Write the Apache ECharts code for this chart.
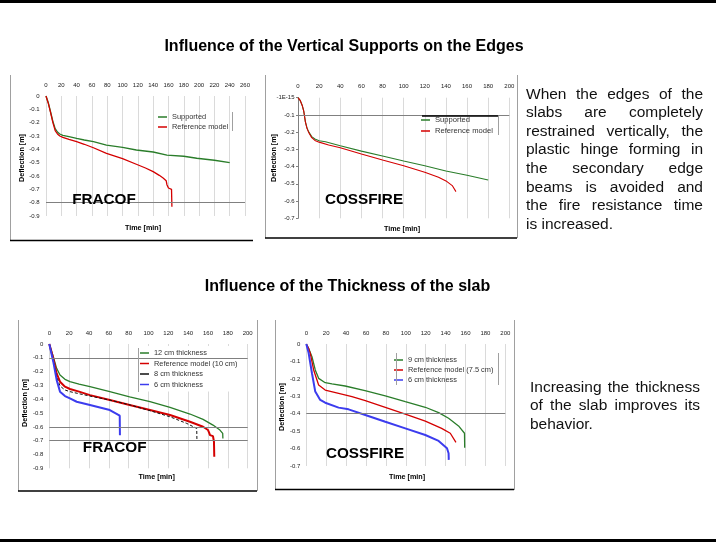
<!DOCTYPE html>
<html><head><meta charset="utf-8">
<script src="https://cdn.jsdelivr.net/npm/echarts@6/dist/echarts.min.js"></script>
<style>
html,body{margin:0;padding:0;background:#fff;}
#c{position:absolute;left:0;top:0;width:716px;height:545px;}
.p{position:absolute;font-family:"Liberation Sans",Arial,sans-serif;font-size:15.5px;line-height:18.6px;color:#111;}
.p div{text-align:justify;text-align-last:justify;white-space:nowrap;}
.p div.l{text-align:left;text-align-last:left;}
</style></head>
<body>
<div id="c"></div>
<div class="p" style="left:526px;top:84.7px;width:177px;">
<div>When the edges of the</div>
<div>slabs are completely</div>
<div>restrained vertically, the</div>
<div>plastic hinge forming in</div>
<div>the secondary edge</div>
<div>beams is avoided and</div>
<div>the fire resistance time</div>
<div class="l">is increased.</div>
</div>
<div class="p" style="left:530px;top:377.7px;width:170px;">
<div>Increasing the thickness</div>
<div>of the slab improves its</div>
<div class="l">behavior.</div>
</div>
<script>
// ---- Data (time [min], deflection [m]) ----
const supFracofT = [0, 3, 6, 9, 12, 15, 18, 22, 30, 40, 50, 62, 79, 100, 118, 140, 158, 180, 197, 220, 240];
const supFracofV = [0, -0.05, -0.12, -0.19, -0.245, -0.27, -0.285, -0.295, -0.305, -0.318, -0.33, -0.343, -0.368, -0.385, -0.405, -0.42, -0.443, -0.452, -0.467, -0.482, -0.50];
const refFracofT = [0, 3, 6, 9, 12, 15, 18, 22, 30, 40, 50, 62, 79, 100, 118, 130, 140, 148, 153, 157, 158, 159.5, 160, 164, 164.5];
const refFracofV = [0, -0.055, -0.125, -0.2, -0.26, -0.285, -0.30, -0.31, -0.325, -0.343, -0.362, -0.388, -0.43, -0.47, -0.512, -0.54, -0.567, -0.595, -0.615, -0.635, -0.665, -0.675, -0.69, -0.70, -0.83];

const supCossT = [0, 2, 4, 5.5, 7, 8.5, 10, 13, 16, 20, 26, 40, 60, 80, 100, 120, 140, 160, 180];
const supCossV = [0, -0.015, -0.045, -0.08, -0.14, -0.175, -0.197, -0.226, -0.24, -0.25, -0.256, -0.279, -0.31, -0.338, -0.367, -0.395, -0.425, -0.45, -0.478];
const refCossT = [0, 2, 4, 5.5, 7, 8.5, 10, 13, 16, 20, 29, 40, 60, 80, 100, 120, 133, 141, 146, 149.5];
const refCossV = [0, -0.015, -0.045, -0.08, -0.14, -0.178, -0.2, -0.232, -0.248, -0.258, -0.275, -0.29, -0.327, -0.362, -0.395, -0.433, -0.462, -0.487, -0.51, -0.545];

const fr12T = [0, 4, 7.4, 10.8, 15.8, 20.8, 30, 41, 61, 81, 101.5, 121.7, 141.8, 155, 165, 172, 174.8, 175];
const fr12V = [0, -0.092, -0.176, -0.225, -0.256, -0.273, -0.29, -0.309, -0.345, -0.382, -0.418, -0.459, -0.507, -0.546, -0.587, -0.623, -0.647, -0.684];
const fr10T = [0, 4, 7.4, 10.8, 15.8, 20.8, 30, 41, 61, 81, 101.5, 121.7, 141.8, 155, 160, 161, 162, 165, 166, 166.3];
const fr10V = [0, -0.104, -0.213, -0.273, -0.309, -0.326, -0.345, -0.37, -0.406, -0.442, -0.478, -0.514, -0.563, -0.599, -0.623, -0.64, -0.66, -0.667, -0.708, -0.816];
const fr8T = [0, 4, 7.4, 10.8, 15.8, 20.8, 30, 41, 61, 81, 101.5, 121.7, 138.5, 148.6, 148.8];
const fr8V = [0, -0.11, -0.237, -0.304, -0.333, -0.345, -0.36, -0.377, -0.406, -0.44, -0.483, -0.527, -0.575, -0.611, -0.69];
const fr6T = [0, 4, 7.4, 10.8, 15.8, 20.8, 27.6, 41, 50, 61, 71, 71.2];
const fr6V = [0, -0.128, -0.26, -0.345, -0.377, -0.394, -0.418, -0.442, -0.458, -0.478, -0.519, -0.66];

const co9T = [0, 2.3, 5.7, 9, 12.4, 19, 25.8, 39, 59, 79.4, 99.5, 119.6, 133, 143, 153, 159, 159.2];
const co9V = [0, -0.025, -0.073, -0.149, -0.197, -0.222, -0.229, -0.241, -0.268, -0.298, -0.331, -0.363, -0.394, -0.426, -0.47, -0.512, -0.595];
const co75T = [0, 2.3, 4, 7.4, 12.4, 19, 32.5, 45.9, 59.3, 79.4, 99.5, 119.6, 136, 144.7, 150.4];
const co75V = [0, -0.025, -0.054, -0.149, -0.235, -0.264, -0.283, -0.302, -0.325, -0.363, -0.402, -0.442, -0.484, -0.512, -0.564];
const co6T = [0, 2.3, 5.7, 9, 14, 19, 32.5, 42.5, 59.3, 79.4, 99.5, 119.6, 133, 141.4, 143, 143.2];
const co6V = [0, -0.05, -0.168, -0.273, -0.321, -0.337, -0.365, -0.375, -0.407, -0.446, -0.484, -0.522, -0.556, -0.598, -0.627, -0.665];

// axis ranges / tick labels
const xMaxes = [260, 200, 200, 200];
const yMins = [-0.9, -0.7, -0.9, -0.7];
const topYLabels = ['0', '-1E-15', '0', '0'];
const refLines = [[-0.8], [-0.1], [-0.1, -0.6, -0.7], [-0.4]];

const GREEN = '#2a7d2a', RED = '#d40000', BLUE = '#3c3cee';
const FONT = '"Liberation Sans", Arial, sans-serif';
const zip = (t, v) => t.map((x, i) => [x, v[i]]);

const grids = [
  {left: 46, top: 96, width: 199, height: 120},
  {left: 298, top: 97.7, width: 211.3, height: 120.6},
  {left: 49.3, top: 344, width: 198.4, height: 124.3},
  {left: 306.3, top: 344, width: 199, height: 122}
];
const ylMargins = [6.5, 3.5, 6, 6];

const xAxes = grids.map((g, i) => ({
  type: 'value', gridIndex: i, position: 'top', min: 0, max: xMaxes[i], interval: 20,
  axisLine: {show: false}, axisTick: {show: false},
  axisLabel: {fontSize: 6, color: '#222', margin: 8, fontFamily: FONT},
  splitLine: {show: true, lineStyle: {color: '#dadada', width: 1}}
}));
const yAxes = grids.map((g, i) => ({
  type: 'value', gridIndex: i, min: yMins[i], max: 0, interval: 0.1,
  axisLine: {show: i === 1, lineStyle: {color: '#808080', width: 1}},
  axisTick: {show: i === 1, length: 2, lineStyle: {color: '#808080'}},
  splitLine: {show: false},
  axisLabel: {fontSize: 6, color: '#222', margin: ylMargins[i], fontFamily: FONT,
    formatter: v => Math.abs(v) < 1e-9 ? topYLabels[i] : v.toFixed(1)}
}));

function ser(name, grid, data, color, width, dashed, withLines) {
  const s = {
    name, type: 'line', xAxisIndex: grid, yAxisIndex: grid, data, symbol: 'none',
    lineStyle: {color, width, type: dashed ? [3, 2] : 'solid'}, itemStyle: {color},
    z: 3
  };
  if (withLines) {
    s.markLine = {silent: true, symbol: ['none', 'none'], label: {show: false},
      lineStyle: {color: '#808080', width: 1, type: 'solid'},
      data: refLines[grid].map(y => ({yAxis: y}))};
  }
  return s;
}

const series = [
  ser('Supported', 0, zip(supFracofT, supFracofV), GREEN, 1.3, false, true),
  ser('Reference model', 0, zip(refFracofT, refFracofV), RED, 1.3),
  ser('Supported', 1, zip(supCossT, supCossV), GREEN, 1.1, false, true),
  ser('Reference model', 1, zip(refCossT, refCossV), RED, 1.1),
  ser('12 cm thickness', 2, zip(fr12T, fr12V), GREEN, 1.3, false, true),
  ser('Reference model (10 cm)', 2, zip(fr10T, fr10V), RED, 2),
  ser('8 cm thickness', 2, zip(fr8T, fr8V), '#111', 1, true),
  ser('6 cm thickness', 2, zip(fr6T, fr6V), BLUE, 2),
  ser('9 cm thickness', 3, zip(co9T, co9V), GREEN, 1.3, false, true),
  ser('Reference model (7.5 cm)', 3, zip(co75T, co75V), RED, 1.3),
  ser('6 cm thickness ', 3, zip(co6T, co6V), BLUE, 2)
];

function leg(names, left, top, fs, gap, thick, extra) {
  return Object.assign({
    data: names.map((n, k) => ({name: n, icon: 'rect'})),
    orient: 'vertical', left, top, itemWidth: 9, itemHeight: 1.5, itemGap: gap,
    padding: 0, selectedMode: false,
    textStyle: {fontSize: fs, lineHeight: 8, color: '#333', fontFamily: FONT}
  }, extra || {});
}
const legends = [
  leg(['Supported', 'Reference model'], 158, 113, 7.4, 2),
  leg(['Supported', 'Reference model'], 421, 116, 7.6, 3),
  leg(['12 cm thickness', 'Reference model (10 cm)', '8 cm thickness', '6 cm thickness'], 138, 346, 7.4, 2.5, null,
    {padding: [3, 6, 3, 2], backgroundColor: '#fff'}),
  leg(['9 cm thickness', 'Reference model (7.5 cm)', '6 cm thickness '], 394, 356, 7.4, 2)
];

function txt(text, x, y, font, rot) {
  return {type: 'text', x, y, rotation: rot || 0, z: 50,
    style: {text, font, fill: '#000', align: 'center', verticalAlign: 'middle'}};
}
function ln(x1, y1, x2, y2, stroke, w) {
  return {type: 'line', z: 60, silent: true, shape: {x1, y1, x2, y2}, style: {stroke, lineWidth: w || 1}};
}
const BOLD16 = 'bold 16px ' + FONT, BIG = 'bold 15.3px ' + FONT, AX = 'bold 7.2px ' + FONT;
const GR = '#a0a0a0';
const graphic = [
  {type: 'rect', z: 60, shape: {x: 0, y: 0, width: 716, height: 3}, style: {fill: '#000'}},
  {type: 'rect', z: 60, shape: {x: 0, y: 539, width: 716, height: 3}, style: {fill: '#000'}},
  txt('Influence of the Vertical Supports on the Edges', 344, 47, BOLD16),
  txt('Influence of the Thickness of the slab', 347.5, 287, BOLD16),
  txt('FRACOF', 104, 200, BIG), txt('COSSFIRE', 364, 200, BIG),
  txt('FRACOF', 114.7, 448, BIG), txt('COSSFIRE', 365, 454, BIG),
  txt('Time [min]', 143, 228, AX), txt('Time [min]', 402, 229, AX),
  txt('Time [min]', 156.7, 476.7, AX), txt('Time [min]', 407, 477, AX),
  txt('Deflection [m]', 22, 158, AX, Math.PI / 2), txt('Deflection [m]', 274, 158, AX, Math.PI / 2),
  txt('Deflection [m]', 25, 403, AX, Math.PI / 2), txt('Deflection [m]', 282, 407, AX, Math.PI / 2),
  // chart frames
  ln(10.5, 75, 10.5, 241, GR), ln(10, 240.5, 253, 240.5, '#000', 1.6),
  ln(265.5, 75, 265.5, 238, GR), ln(517.5, 75, 517.5, 238, GR), ln(265, 238, 517, 238, '#000', 1.6),
  ln(18.5, 320, 18.5, 491, GR), ln(257.5, 320, 257.5, 491, GR), ln(18, 491, 257, 491, '#000', 1.6),
  ln(275.5, 320, 275.5, 490, GR), ln(514.5, 320, 514.5, 490, GR), ln(275, 489.5, 514, 489.5, '#000', 1.6),
  // legend box fragments
  ln(232.5, 112, 232.5, 131, GR),
  ln(422, 116, 498, 116, '#000', 1.5), ln(498.5, 116, 498.5, 135, GR),
  ln(138.5, 348, 138.5, 392, GR),
  ln(396.5, 353, 396.5, 385, GR), ln(498.5, 353, 498.5, 385, GR)
];

const chart = echarts.init(document.getElementById('c'), null, {renderer: 'canvas'});
chart.setOption({
  animation: false,
  backgroundColor: 'transparent',
  grid: grids, xAxis: xAxes, yAxis: yAxes, series, legend: legends, graphic
});
</script>
</body></html>
